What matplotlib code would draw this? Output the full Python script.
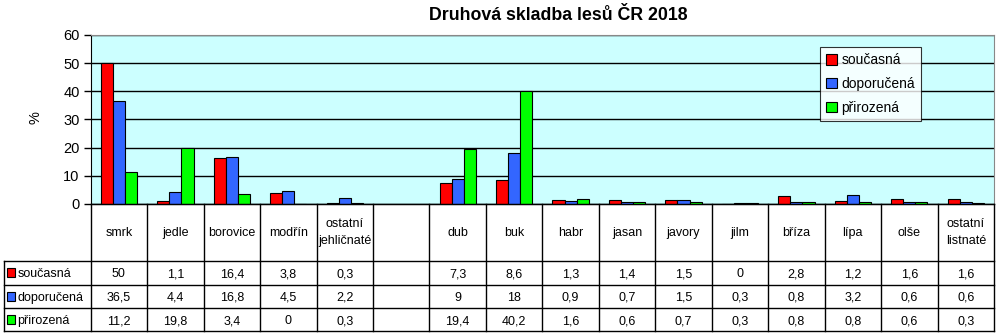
import numpy as np
import matplotlib.pyplot as plt
import matplotlib.patches as mpatches

plt.rcParams['font.family'] = ['Liberation Sans', 'DejaVu Sans']

# tree species (blank column separates conifers from broadleaves)
categories = ['smrk', 'jedle', 'borovice', 'modřín', 'ostatní\njehličnaté', '',
              'dub', 'buk', 'habr', 'jasan', 'javory', 'jilm', 'bříza', 'lípa',
              'olše', 'ostatní\nlistnaté']
soucasna = [50, 1.1, 16.4, 3.8, 0.3, None, 7.3, 8.6, 1.3, 1.4, 1.5, 0, 2.8, 1.2, 1.6, 1.6]
doporucena = [36.5, 4.4, 16.8, 4.5, 2.2, None, 9, 18, 0.9, 0.7, 1.5, 0.3, 0.8, 3.2, 0.6, 0.6]
prirozena = [11.2, 19.8, 3.4, 0, 0.3, None, 19.4, 40.2, 1.6, 0.6, 0.7, 0.3, 0.8, 0.8, 0.6, 0.3]

series = [('současná', soucasna, '#FF0000'),
          ('doporučená', doporucena, '#3366FF'),
          ('přirozená', prirozena, '#00FF00')]

W, H = 1000, 336
fig = plt.figure(figsize=(10, 3.36), dpi=100)


def fx(px):
    return px / W


def fy(py):
    return 1 - py / H


# main plot area
x_left, x_right = 90.7, 994
y_top, y_bot = 35, 204
ax = fig.add_axes([fx(x_left), fy(y_bot), fx(x_right - x_left), (y_bot - y_top) / H])
ax.set_facecolor('#CCFFFF')

n = len(categories)
x = np.arange(n)
bw = 0.214
for k, (name, vals, col) in enumerate(series):
    idx = [i for i, v in enumerate(vals) if v is not None]
    ax.bar(x[idx] + (k - 1) * bw, [vals[i] for i in idx], width=bw,
           color=col, edgecolor='black', linewidth=0.8, zorder=3)

ax.set_xlim(-0.5, n - 0.5)
ax.set_ylim(0, 60)
ax.set_yticks(range(0, 61, 10))
ax.yaxis.grid(True, color='black', linewidth=1, zorder=1)
ax.set_xticks([])
ax.tick_params(axis='y', direction='out', length=5, width=1, labelsize=10.5,
               colors='black', pad=3)
for s in ['top', 'right']:
    ax.spines[s].set_color('#888888')
ax.spines['left'].set_color('black')
ax.spines['bottom'].set_color('black')
fig.text(fx(35), fy(118), '%', rotation=90, ha='center', va='center', fontsize=10.5)

fig.text(fx(558), fy(15), 'Druhová skladba lesů ČR 2018', ha='center',
         va='center', fontsize=12.8, fontweight='bold')

handles = [mpatches.Patch(facecolor=c, edgecolor='black', linewidth=0.8, label=nm)
           for nm, _, c in series]
leg = ax.legend(handles=handles, loc='upper left',
                bbox_to_anchor=(fx(820), fy(47)), bbox_transform=fig.transFigure,
                fontsize=10, frameon=True, fancybox=False, handlelength=0.8,
                handleheight=0.8, handletextpad=0.3, labelspacing=0.7,
                borderpad=0.45, borderaxespad=0)
leg.get_frame().set_edgecolor('black')
leg.get_frame().set_linewidth(0.8)
leg.set_zorder(5)

# data table below the plot, sharing category positions (y in pixel rows)
t_top, t_bot = 204, 331
rows = [204, 261, 284.5, 308, 331]
tab = fig.add_axes([fx(x_left), fy(t_bot), fx(x_right - x_left), (t_bot - t_top) / H])
tab.set_xlim(-0.5, n - 0.5)
tab.set_ylim(t_bot, t_top)
tab.axis('off')
unit = (x_right - x_left) / n
x_tab_left = -0.5 - (x_left - 4) / unit

lk = dict(color='black', linewidth=1, clip_on=False)
# vertical dividers
for i in range(n + 1):
    tab.plot([i - 0.5, i - 0.5], [rows[0], rows[-1]], **lk)
tab.plot([x_tab_left, x_tab_left], [rows[1], rows[-1]], **lk)
# horizontal lines
for j, yv in enumerate(rows):
    x0 = -0.5 if j == 0 else x_tab_left
    tab.plot([x0, n - 0.5], [yv, yv], **lk)

for i, c in enumerate(categories):
    tab.text(i, (rows[0] + rows[1]) / 2, c, ha='center', va='center',
             fontsize=9, linespacing=1.5)


def fmt(v):
    if v is None:
        return ''
    s = ('%g' % v)
    return s.replace('.', ',')


for r, (name, vals, col) in enumerate(series):
    yc = (rows[r + 1] + rows[r + 2]) / 2
    base = yc + 4.5
    sq = 0.13
    tab.add_patch(mpatches.Rectangle((x_tab_left + 0.06, yc - 4.5), sq, 9,
                                     facecolor=col, edgecolor='black',
                                     linewidth=0.8, clip_on=False))
    tab.text(x_tab_left + 0.06 + sq + 0.05, base, name, ha='left',
             va='baseline', fontsize=9, clip_on=False)
    for i, v in enumerate(vals):
        tab.text(i, base, fmt(v), ha='center', va='baseline', fontsize=9)

fig.savefig('out.png', dpi=100)
